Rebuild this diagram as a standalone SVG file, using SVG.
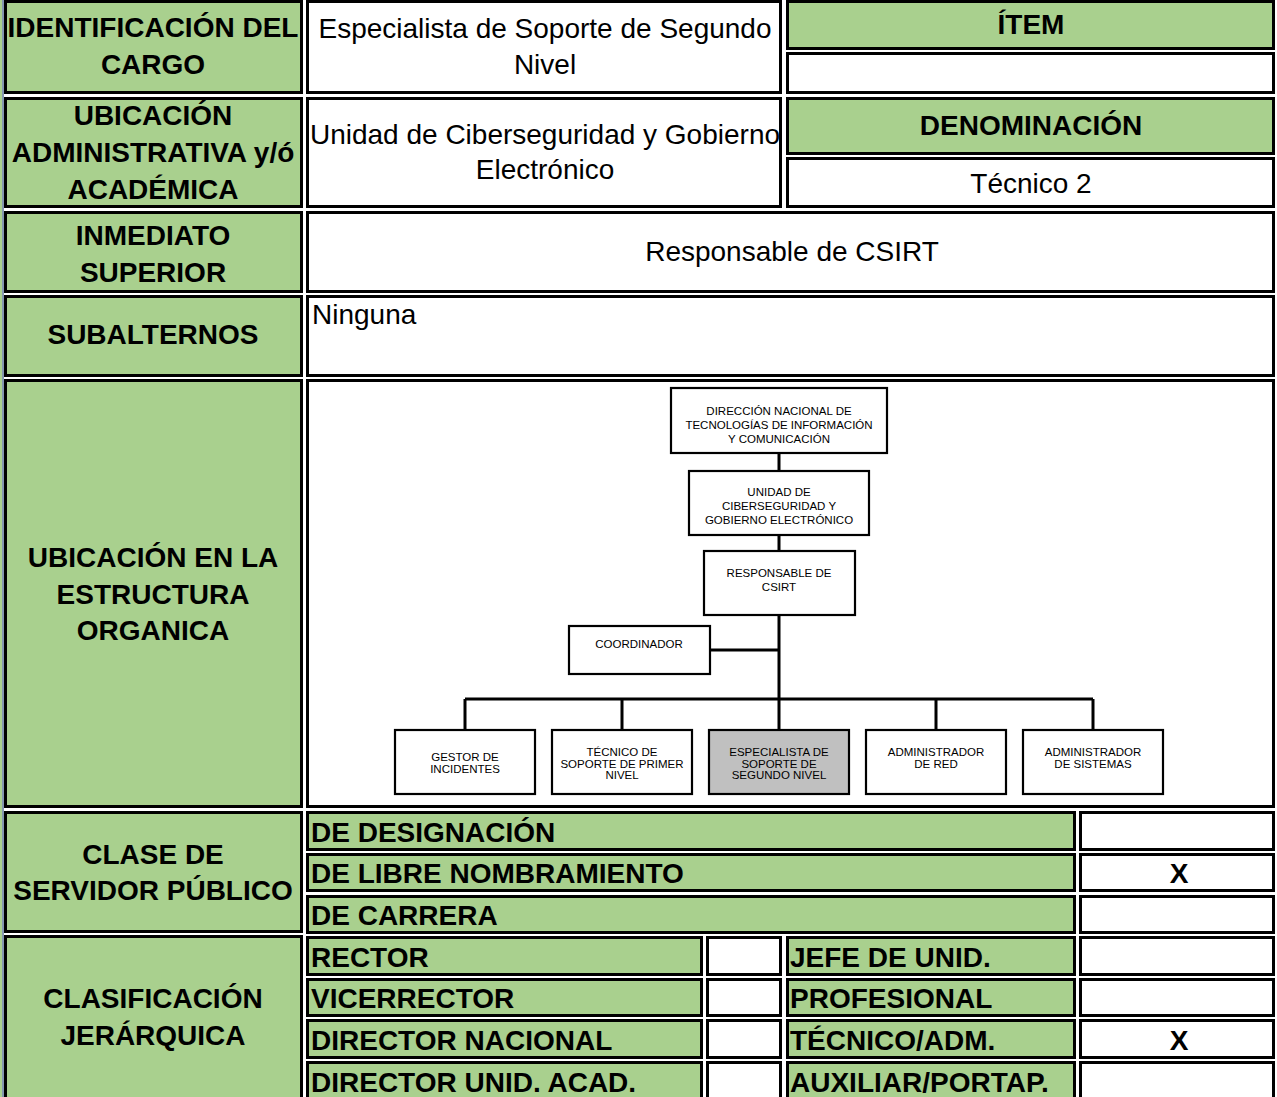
<svg xmlns="http://www.w3.org/2000/svg" width="1277" height="1097" viewBox="0 0 1277 1097">
<style>
.g{fill:#a9d08e;stroke:#000;stroke-width:3}
.w{fill:#fff;stroke:#000;stroke-width:3}
.lb{font-family:"Liberation Sans",Arial,sans-serif;font-weight:bold;font-size:28px;fill:#000}
.lbc{font-family:"Liberation Sans",Arial,sans-serif;font-weight:bold;font-size:28px;fill:#000;text-anchor:middle}
.rc{font-family:"Liberation Sans",Arial,sans-serif;font-size:28px;fill:#000;text-anchor:middle}
.r{font-family:"Liberation Sans",Arial,sans-serif;font-size:28px;fill:#000}
.ob{fill:#fff;stroke:#000;stroke-width:2.2}
.obg{fill:#c0c0c0;stroke:#000;stroke-width:2.2}
.ot{font-family:"Liberation Sans",Arial,sans-serif;font-size:11.5px;fill:#000;text-anchor:middle}
.cn{fill:none;stroke:#000;stroke-width:3}
</style>
<rect x="0" y="0" width="1277" height="1097" fill="#fff"/>
<rect x="0" y="0" width="2" height="1097" fill="#a9d08e"/>
<rect x="2" y="0" width="2" height="1097" fill="#8497b0"/>

<!-- Left label column -->
<g id="lbl-identificacion"><rect class="g" x="5.5" y="1.5" width="296" height="91"/>
<text class="lbc" x="153" y="37">IDENTIFICACIÓN DEL</text><text class="lbc" x="153" y="74">CARGO</text></g>
<g id="lbl-ubicacion-adm"><rect class="g" x="5.5" y="98.5" width="296" height="108"/>
<text class="lbc" x="153" y="125">UBICACIÓN</text><text class="lbc" x="153" y="162">ADMINISTRATIVA y/ó</text><text class="lbc" x="153" y="199">ACADÉMICA</text></g>
<g id="lbl-inmediato"><rect class="g" x="5.5" y="212.5" width="296" height="79"/>
<text class="lbc" x="153" y="245">INMEDIATO</text><text class="lbc" x="153" y="282">SUPERIOR</text></g>
<g id="lbl-subalternos"><rect class="g" x="5.5" y="296.5" width="296" height="79"/>
<text class="lbc" x="153" y="344">SUBALTERNOS</text></g>
<g id="lbl-estructura"><rect class="g" x="5.5" y="380.5" width="296" height="426"/>
<text class="lbc" x="153" y="567">UBICACIÓN EN LA</text><text class="lbc" x="153" y="604">ESTRUCTURA</text><text class="lbc" x="153" y="640">ORGANICA</text></g>
<g id="lbl-clase"><rect class="g" x="5.5" y="812.5" width="296" height="119"/>
<text class="lbc" x="153" y="864">CLASE DE</text><text class="lbc" x="153" y="900">SERVIDOR PÚBLICO</text></g>
<g id="lbl-clasificacion"><rect class="g" x="5.5" y="936.5" width="296" height="164"/>
<text class="lbc" x="153" y="1008">CLASIFICACIÓN</text><text class="lbc" x="153" y="1045">JERÁRQUICA</text></g>

<!-- Values -->
<g id="val-cargo"><rect class="w" x="307.5" y="1.5" width="473" height="91"/>
<text class="rc" x="545" y="38">Especialista de Soporte de Segundo</text><text class="rc" x="545" y="74">Nivel</text></g>
<g id="val-ubicacion"><rect class="w" x="307.5" y="98.5" width="473" height="108"/>
<text class="rc" x="545" y="144">Unidad de Ciberseguridad y Gobierno</text><text class="rc" x="545" y="179">Electrónico</text></g>
<g id="item"><rect class="g" x="787.5" y="1.5" width="486" height="47"/>
<text class="lbc" x="1031" y="34">ÍTEM</text></g>
<g id="item-val"><rect class="w" x="787.5" y="53.5" width="486" height="39"/></g>
<g id="denominacion"><rect class="g" x="787.5" y="98.5" width="486" height="55"/>
<text class="lbc" x="1031" y="135">DENOMINACIÓN</text></g>
<g id="denominacion-val"><rect class="w" x="787.5" y="158.5" width="486" height="48"/>
<text class="rc" x="1031" y="193">Técnico 2</text></g>
<g id="val-inmediato"><rect class="w" x="307.5" y="212.5" width="966" height="79"/>
<text class="rc" x="792" y="261">Responsable de CSIRT</text></g>
<g id="val-subalternos"><rect class="w" x="307.5" y="296.5" width="966" height="79"/>
<text class="r" x="312" y="324">Ninguna</text></g>
<g id="val-estructura"><rect class="w" x="307.5" y="380.5" width="966" height="426"/></g>

<!-- Clase de servidor -->
<g id="cl-designacion"><rect class="g" x="307.5" y="812.5" width="767" height="37"/><text class="lb" x="311" y="842">DE DESIGNACIÓN</text>
<rect class="w" x="1080.5" y="812.5" width="193" height="37"/></g>
<g id="cl-libre"><rect class="g" x="307.5" y="854.5" width="767" height="36"/><text class="lb" x="311" y="883">DE LIBRE NOMBRAMIENTO</text>
<rect class="w" x="1080.5" y="854.5" width="193" height="36"/><text class="lbc" x="1179" y="883">X</text></g>
<g id="cl-carrera"><rect class="g" x="307.5" y="896.5" width="767" height="36"/><text class="lb" x="311" y="925">DE CARRERA</text>
<rect class="w" x="1080.5" y="896.5" width="193" height="36"/></g>

<!-- Clasificacion jerarquica -->
<g id="cj-rector"><rect class="g" x="307.5" y="937.5" width="394" height="37"/><text class="lb" x="311" y="967">RECTOR</text>
<rect class="w" x="707.5" y="937.5" width="73" height="37"/></g>
<g id="cj-vicerrector"><rect class="g" x="307.5" y="979.5" width="394" height="36"/><text class="lb" x="311" y="1008">VICERRECTOR</text>
<rect class="w" x="707.5" y="979.5" width="73" height="36"/></g>
<g id="cj-director-nac"><rect class="g" x="307.5" y="1020.5" width="394" height="37"/><text class="lb" x="311" y="1050">DIRECTOR NACIONAL</text>
<rect class="w" x="707.5" y="1020.5" width="73" height="37"/></g>
<g id="cj-director-unid"><rect class="g" x="307.5" y="1062.5" width="394" height="40"/><text class="lb" x="311" y="1092">DIRECTOR UNID. ACAD.</text>
<rect class="w" x="707.5" y="1062.5" width="73" height="40"/></g>
<g id="cj-jefe"><rect class="g" x="787.5" y="937.5" width="287" height="37"/><text class="lb" x="790" y="967">JEFE DE UNID.</text>
<rect class="w" x="1080.5" y="937.5" width="193" height="37"/></g>
<g id="cj-profesional"><rect class="g" x="787.5" y="979.5" width="287" height="36"/><text class="lb" x="790" y="1008">PROFESIONAL</text>
<rect class="w" x="1080.5" y="979.5" width="193" height="36"/></g>
<g id="cj-tecnico"><rect class="g" x="787.5" y="1020.5" width="287" height="37"/><text class="lb" x="790" y="1050">TÉCNICO/ADM.</text>
<rect class="w" x="1080.5" y="1020.5" width="193" height="37"/><text class="lbc" x="1179" y="1050">X</text></g>
<g id="cj-auxiliar"><rect class="g" x="787.5" y="1062.5" width="287" height="40"/><text class="lb" x="790" y="1092">AUXILIAR/PORTAP.</text>
<rect class="w" x="1080.5" y="1062.5" width="193" height="40"/></g>

<!-- Org chart connectors -->
<g id="connectors">
<path class="cn" d="M779 453V471M779 535V551M779 615V730M710 650H779M465 699H1093M465 699V730M622 699V730M936 699V730M1093 699V730"/>
</g>

<!-- Org chart nodes -->
<g id="org-direccion"><rect class="ob" x="671" y="388" width="216" height="65"/>
<text class="ot" x="779" y="415">DIRECCIÓN NACIONAL DE</text><text class="ot" x="779" y="429">TECNOLOGÍAS DE INFORMACIÓN</text><text class="ot" x="779" y="443">Y COMUNICACIÓN</text></g>
<g id="org-unidad"><rect class="ob" x="689" y="471" width="180" height="64"/>
<text class="ot" x="779" y="496">UNIDAD DE</text><text class="ot" x="779" y="510">CIBERSEGURIDAD Y</text><text class="ot" x="779" y="524">GOBIERNO ELECTRÓNICO</text></g>
<g id="org-responsable"><rect class="ob" x="704" y="551" width="151" height="64"/>
<text class="ot" x="779" y="577">RESPONSABLE DE</text><text class="ot" x="779" y="591">CSIRT</text></g>
<g id="org-coordinador"><rect class="ob" x="569" y="626" width="141" height="48"/>
<text class="ot" x="639" y="648">COORDINADOR</text></g>
<g id="org-gestor"><rect class="ob" x="395" y="730" width="140" height="64"/>
<text class="ot" x="465" y="761">GESTOR DE</text><text class="ot" x="465" y="773">INCIDENTES</text></g>
<g id="org-tecnico"><rect class="ob" x="552" y="730" width="140" height="64"/>
<text class="ot" x="622" y="756">TÉCNICO DE</text><text class="ot" x="622" y="768">SOPORTE DE PRIMER</text><text class="ot" x="622" y="779">NIVEL</text></g>
<g id="org-especialista"><rect class="obg" x="709" y="730" width="140" height="64"/>
<text class="ot" x="779" y="756">ESPECIALISTA DE</text><text class="ot" x="779" y="768">SOPORTE DE</text><text class="ot" x="779" y="779">SEGUNDO NIVEL</text></g>
<g id="org-admin-red"><rect class="ob" x="866" y="730" width="140" height="64"/>
<text class="ot" x="936" y="756">ADMINISTRADOR</text><text class="ot" x="936" y="768">DE RED</text></g>
<g id="org-admin-sis"><rect class="ob" x="1023" y="730" width="140" height="64"/>
<text class="ot" x="1093" y="756">ADMINISTRADOR</text><text class="ot" x="1093" y="768">DE SISTEMAS</text></g>
</svg>
